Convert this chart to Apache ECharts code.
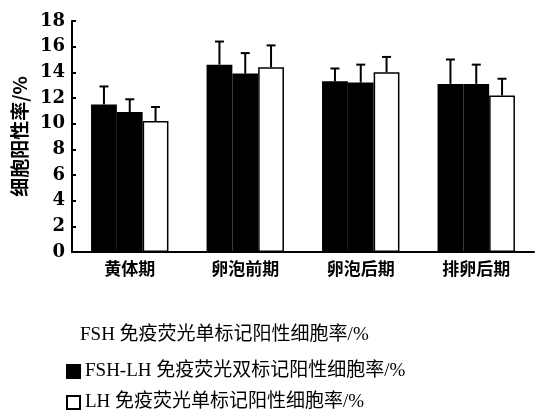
<!DOCTYPE html>
<html>
<head>
<meta charset="utf-8">
<script src="https://cdn.jsdelivr.net/npm/echarts@6/dist/echarts.min.js"></script>
<style>
  html, body { margin: 0; padding: 0; background: #fff; }
  #main { width: 537px; height: 412px; }
</style>
</head>
<body>
<div id="main"></div>
<script>
// categories and values
var categories = ['黄体期', '卵泡前期', '卵泡后期', '排卵后期'];
var seriesNames = [
    'FSH 免疫荧光单标记阳性细胞率/%',
    'FSH-LH 免疫荧光双标记阳性细胞率/%',
    'LH 免疫荧光单标记阳性细胞率/%'
];
var fshMean = [11.5, 14.6, 13.3, 13.1];
var fshSd = [1.4, 1.8, 1.0, 1.9];
var dualMean = [10.9, 13.9, 13.2, 13.1];
var dualSd = [1.0, 1.6, 1.4, 1.5];
var lhMean = [10.2, 14.4, 14.0, 12.2];
var lhSd = [1.1, 1.7, 1.2, 1.3];
var yTicks = [0, 18, 2];   // min, max, interval

var chart = echarts.init(document.getElementById('main'), null, { renderer: 'canvas' });

var means = [fshMean, dualMean, lhMean];
var sds = [fshSd, dualSd, lhSd];
var fills = ['#000', '#000', '#fff'];
var legendIcons = ['none', 'rect', 'rect'];
var legendTops = [321, 357, 388];
var catGap = 0.33;

function errorSeries(k) {
    var data = categories.map(function (c, i) {
        return [i, means[k][i], means[k][i] + sds[k][i]];
    });
    return {
        type: 'custom',
        z: 5,
        silent: true,
        data: data,
        renderItem: function (params, api) {
            var base = api.coord([api.value(0), api.value(1)]);
            var top = api.coord([api.value(0), api.value(2)]);
            var band = api.size([1, 0])[0];
            var bw = band * (1 - catGap) / 3;
            var x = base[0] + (k - 1) * bw;
            var cap = 4.5;
            var st = { stroke: '#000', lineWidth: 2 };
            return {
                type: 'group',
                children: [
                    { type: 'line', shape: { x1: x, y1: base[1], x2: x, y2: top[1] }, style: st },
                    { type: 'line', shape: { x1: x - cap, y1: top[1], x2: x + cap, y2: top[1] }, style: st }
                ]
            };
        }
    };
}

var barSeries = seriesNames.map(function (name, k) {
    return {
        name: name,
        type: 'bar',
        data: means[k],
        barGap: '0%',
        barCategoryGap: (catGap * 100) + '%',
        itemStyle: { color: fills[k], borderColor: '#000', borderWidth: 1.5 }
    };
});

// one legend per line so each sits where the figure has it
var legends = seriesNames.map(function (name, k) {
    return {
        left: k === 0 ? 57 : 61,
        top: legendTops[k],
        itemWidth: 13,
        itemHeight: 13,
        itemGap: 0,
        selectedMode: false,
        data: [{ name: name, icon: legendIcons[k] }],
        textStyle: {
            fontFamily: '"Liberation Serif", "Noto Sans CJK SC", serif',
            fontSize: 19,
            color: '#000'
        }
    };
});

var option = {
    animation: false,
    backgroundColor: '#fff',
    grid: { left: 72, right: 3, top: 21, bottom: 160 },
    legend: legends,
    xAxis: {
        type: 'category',
        data: categories,
        axisLine: { lineStyle: { color: '#000', width: 2 } },
        axisTick: { show: false },
        axisLabel: {
            margin: 8,
            color: '#000',
            fontSize: 17,
            fontWeight: 'bold',
            fontFamily: '"Noto Sans CJK SC", sans-serif'
        }
    },
    yAxis: {
        type: 'value',
        min: yTicks[0],
        max: yTicks[1],
        interval: yTicks[2],
        name: '细胞阳性率/%',
        nameLocation: 'middle',
        nameGap: 40,
        nameTextStyle: {
            color: '#000',
            fontSize: 19,
            fontWeight: 'bold',
            fontFamily: '"Noto Sans CJK SC", sans-serif'
        },
        axisLine: { show: true, lineStyle: { color: '#000', width: 2 } },
        axisTick: { show: true, inside: true, length: 4, lineStyle: { color: '#000', width: 2 } },
        splitLine: { show: false },
        axisLabel: {
            margin: 7,
            color: '#000',
            fontSize: 18,
            fontWeight: 'bold',
            fontFamily: '"DejaVu Serif", serif'
        }
    },
    series: barSeries.concat([errorSeries(0), errorSeries(1), errorSeries(2)])
};

chart.setOption(option);
</script>
</body>
</html>
